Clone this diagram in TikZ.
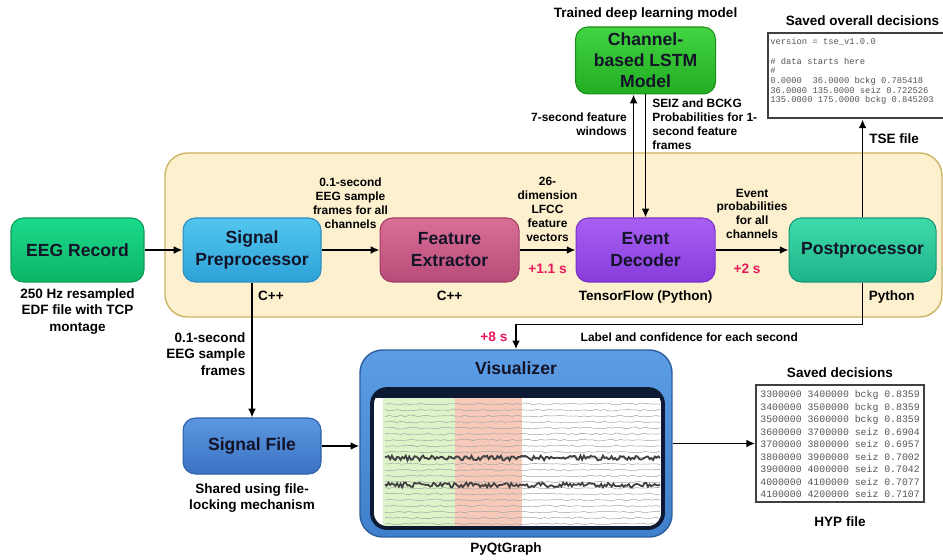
\documentclass[tikz,border=0pt]{standalone}
\usepackage{fontspec}
\setmainfont{Liberation Sans}
\setmonofont{Liberation Mono}
\usetikzlibrary{arrows.meta,positioning}
\definecolor{panelfill}{HTML}{FCF0CE}
\definecolor{paneledge}{HTML}{CDB466}
\definecolor{titleink}{HTML}{141428}
\definecolor{delayred}{HTML}{E8185A}
\definecolor{logink}{HTML}{555555}
\definecolor{eegtop}{HTML}{1BDA8C}
\definecolor{eegbot}{HTML}{0DB466}
\definecolor{eegedge}{HTML}{0E9A57}
\definecolor{preptop}{HTML}{52C6EF}
\definecolor{prepbot}{HTML}{2EA2D8}
\definecolor{prepedge}{HTML}{2B8DC4}
\definecolor{exttop}{HTML}{D96E96}
\definecolor{extbot}{HTML}{B84C78}
\definecolor{extedge}{HTML}{9E3F68}
\definecolor{dectop}{HTML}{A860F3}
\definecolor{decbot}{HTML}{873CDB}
\definecolor{decedge}{HTML}{7A32C8}
\definecolor{posttop}{HTML}{40DBAA}
\definecolor{postbot}{HTML}{1CB389}
\definecolor{postedge}{HTML}{17977A}
\definecolor{lstmtop}{HTML}{42D442}
\definecolor{lstmbot}{HTML}{22AC22}
\definecolor{lstmedge}{HTML}{1D8F1D}
\definecolor{filetop}{HTML}{5B97DF}
\definecolor{filebot}{HTML}{3B72C4}
\definecolor{fileedge}{HTML}{2E5FA8}
\definecolor{vistop}{HTML}{5C9DE5}
\definecolor{visbot}{HTML}{3F7FCB}
\definecolor{visedge}{HTML}{2C5E9E}
\definecolor{screenrim}{HTML}{0E1A33}
\definecolor{seizgreen}{HTML}{DDF3C8}
\definecolor{bckgred}{HTML}{F6C9B9}
\tikzset{
  block/.style={draw,rounded corners=7pt,line width=0.6pt,align=center,text=titleink,font=\fontsize{10}{12.5}\selectfont\bfseries,minimum height=1.28cm,inner sep=2pt},
  flow/.style={-{Latex[length=5pt,width=4.5pt]},line width=1pt},
  caption/.style={align=center,font=\fontsize{7.7}{9.3}\selectfont\bfseries},
  note/.style={align=center,font=\fontsize{6.8}{7.9}\selectfont\bfseries},
  delay/.style={font=\fontsize{7.8}{9}\selectfont\bfseries,text=delayred},
  logline/.style={align=left,anchor=north west,inner sep=0pt,text=logink},
  trace/.style={black!35,line width=0.3pt}
}

\begin{document}
\begin{tikzpicture}[x=0.02cm,y=-0.02cm]
\useasboundingbox[fill=white] (0,0) rectangle (943,560);
\draw[draw=paneledge,fill=panelfill,rounded corners=0.45cm,line width=0.8pt] (165,153) rectangle (942,317);

\node[block,top color=eegtop,bottom color=eegbot,draw=eegedge,minimum width=2.66cm] (eeg) at (77.5,250) {EEG Record};
\node[block,top color=preptop,bottom color=prepbot,draw=prepedge,minimum width=2.76cm,right=0.76cm of eeg] (sigprep) {Signal\\Preprocessor};
\node[block,top color=exttop,bottom color=extbot,draw=extedge,minimum width=2.78cm,right=1.16cm of sigprep] (featext) {Feature\\Extractor};
\node[block,top color=dectop,bottom color=decbot,draw=decedge,minimum width=2.78cm,right=1.12cm of featext] (evdec) {Event\\Decoder};
\node[block,top color=posttop,bottom color=postbot,draw=postedge,minimum width=2.94cm,right=1.46cm of evdec] (postproc) {Postprocessor};
\node[block,top color=lstmtop,bottom color=lstmbot,draw=lstmedge,minimum width=2.8cm,minimum height=1.34cm,inner sep=1pt,font=\fontsize{10}{11.9}\selectfont\bfseries,above=2.46cm of evdec] (lstm) {Channel-\\based LSTM\\Model};
\node[block,top color=filetop,bottom color=filebot,draw=fileedge,minimum width=2.76cm,minimum height=1.12cm,below=2.7cm of sigprep] (sigfile) {Signal File};
\node[draw=visedge,top color=vistop,bottom color=visbot,rounded corners=0.45cm,line width=0.8pt,minimum width=6.24cm,minimum height=3.74cm] (vis) at (516,443.5) {};
\node[font=\fontsize{10}{12}\selectfont\bfseries,text=titleink,below=0.12cm of vis.north] (vistitle) {Visualizer};

\begin{scope}
\clip[rounded corners=0.3cm] (372,389) rectangle (663,528);
\fill[white] (372,389) rectangle (663,528);
\fill[seizgreen] (383,398) rectangle (455,528);
\fill[bckgred] (455,398) rectangle (522,528);
\fill[screenrim] (372,389) rectangle (663,398);
\pgfmathsetseed{7}
\foreach \ty in {404,410,...,524}
  \draw[trace] plot[domain=385:660,samples=70] (\x,{\ty+0.9*rand});
\foreach \ty in {458,485}
  \draw[trace,black!75,line width=1pt] plot[domain=385:660,samples=160] (\x,{\ty+2.4*rand});
\end{scope}
\draw[screenrim,line width=2.2pt,rounded corners=0.3cm] (372,389) rectangle (663,528);

\node[draw=black!75,line width=1.4pt,fill=white,anchor=north west,minimum width=3.6cm,minimum height=1.7cm] (tse) at (767,32) {};
\node[logline,font=\fontsize{5}{5.5}\selectfont\ttfamily] (tselines) at (770,38) {version = tse\_v1.0.0\\[5.5pt]\# data starts here\\\#\\0.0000~~36.0000 bckg 0.785418\\36.0000 135.0000 seiz 0.722526\\135.0000 175.0000 bckg 0.845203};
\node[draw=black!75,line width=1pt,fill=white,minimum width=3.36cm,minimum height=2.34cm] (hyp) at (840,443.5) {};
\node[logline,font=\fontsize{5.6}{7.15}\selectfont\ttfamily] (hyplines) at (760,390) {3300000 3400000 bckg 0.8359\\3400000 3500000 bckg 0.8359\\3500000 3600000 bckg 0.8359\\3600000 3700000 seiz 0.6904\\3700000 3800000 seiz 0.6957\\3800000 3900000 seiz 0.7002\\3900000 4000000 seiz 0.7042\\4000000 4100000 seiz 0.7077\\4100000 4200000 seiz 0.7107};

\node[caption,below=0cm of eeg] (eegcap) {250 Hz resampled\\EDF file with TCP\\montage};
\node[caption,below=0.06cm of sigfile] (filecap) {Shared using file-\\locking mechanism};
\node[caption,above=0cm of lstm] (lstmcap) {Trained deep learning model};
\node[caption,anchor=south] (tsetitle) at (tse.north -| postproc) {Saved overall decisions};
\node[caption,above=0cm of hyp] (hyptitle) {Saved decisions};
\node[caption,below=0.16cm of hyp] (hypname) {HYP file};
\node[caption,below right=0.04cm and 0cm of sigprep.south] (prepcode) {C++};
\node[caption,below=0.04cm of featext] (extcode) {C++};
\node[caption,below=0.04cm of evdec] (deccode) {TensorFlow (Python)};
\node[caption,below right=0.04cm and 0cm of postproc.south] (postcode) {Python};
\node[caption,inner sep=1pt,below=0.06cm of vis,xshift=-0.2cm] (visname) {PyQtGraph};

\draw[flow] (eeg) -- (sigprep);
\draw[flow] (sigprep) -- node[note,above=0.3cm] (lblframes) {0.1-second\\EEG sample\\frames for all\\channels} (featext);
\draw[flow] (featext) -- node[note,above=1pt] (lblvectors) {26-\\dimension\\LFCC\\feature\\vectors} node[delay,below=0.14cm] (lbldelay1) {+1.1 s} (evdec);
\draw[flow] (evdec) -- node[note,above=0.09cm] (lblprobs) {Event\\probabilities\\for all\\channels} node[delay,below=0.14cm,xshift=-0.1cm] (lbldelay2) {+2 s} (postproc);
\draw[flow] ([xshift=-0.24cm]evdec.north) -- node[note,left,align=right,pos=0.76] (lblwindows) {7-second feature\\windows} ([xshift=-0.24cm]lstm.south);
\draw[flow] (lstm.south) -- node[note,right,align=left,pos=0.24] (lblseiz) {SEIZ and BCKG\\Probabilities for 1-\\second feature\\frames} (evdec.north);
\draw[flow] (sigprep) -- node[caption,left,align=right,pos=0.53] (lblsamples) {0.1-second\\EEG sample\\frames} (sigfile);
\draw[flow] (sigfile.east) -- (sigfile.east -| vis.west);
\draw[flow] (vis) -- (hyp);
\draw[flow] (postproc.north) -- node[caption,right,pos=0.8] (tsename) {TSE file} (postproc.north |- tse.south);
\path (postproc.south) ++(0,42) coordinate (turn);
\draw[flow] (postproc.south) -- (turn) -| node[note,pos=0.25,below=1pt] (lblconf) {Label and confidence for each second} node[delay,pos=0.75,left=1pt] (lbldelay8) {+8 s} (vis.north);
\end{tikzpicture}
\end{document}
